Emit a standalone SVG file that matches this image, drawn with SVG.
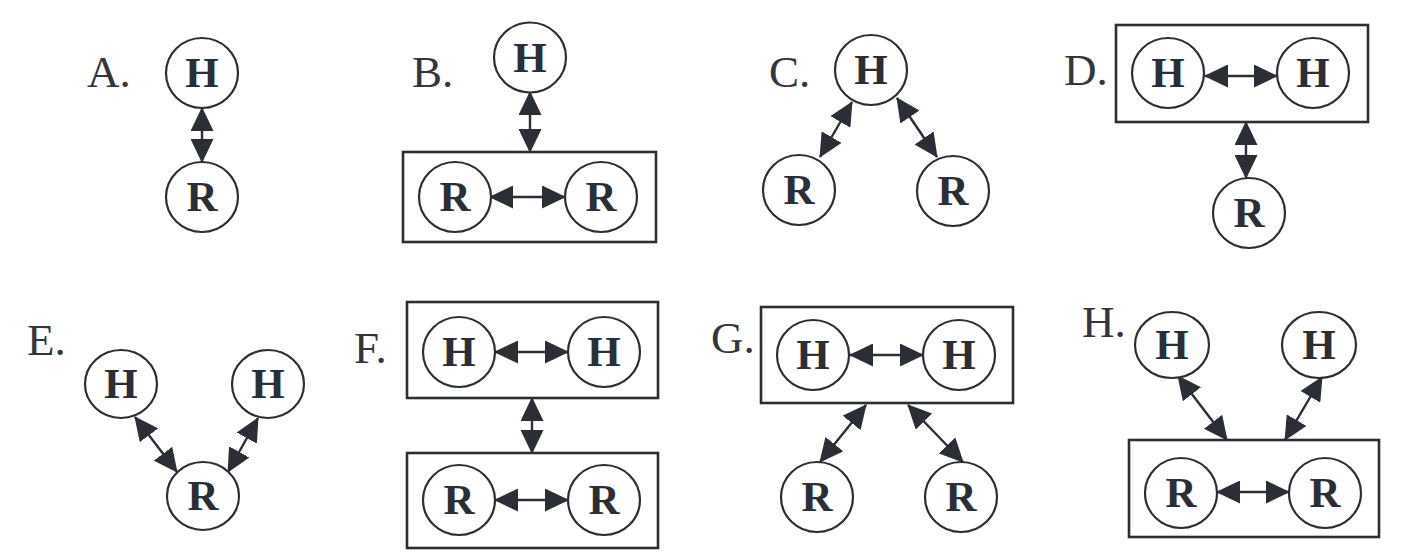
<svg xmlns="http://www.w3.org/2000/svg" width="1402" height="558" viewBox="0 0 1402 558">
<defs>
<style>
.n ellipse{fill:#fff;stroke:#2b2e35;stroke-width:2.2}
.n text{font-family:"Liberation Serif","Times New Roman",serif;font-weight:bold;font-size:43px;fill:#2b2e35;text-anchor:middle}
.box{fill:none;stroke:#2b2e35;stroke-width:2.6}
.lbl{font-family:"Liberation Serif","Times New Roman",serif;font-size:45px;fill:#33363c}
.c line{stroke:#2b2e35;stroke-width:2.4;marker-start:url(#ah);marker-end:url(#ah)}
</style>
<marker id="ah" viewBox="0 0 24 23" markerWidth="24" markerHeight="23" refX="23" refY="11.5" orient="auto-start-reverse" markerUnits="userSpaceOnUse">
<path d="M0,0 L24,11.5 L0,23 Z" fill="#2b2e35"/>
</marker>
</defs>
<rect width="1402" height="558" fill="#fff"/>
<g id="labels">
<text class="lbl" x="87" y="87">A.</text>
<text class="lbl" x="412" y="87">B.</text>
<text class="lbl" x="769" y="87">C.</text>
<text class="lbl" x="1064" y="85">D.</text>
<text class="lbl" x="27" y="355">E.</text>
<text class="lbl" x="354" y="363">F.</text>
<text class="lbl" x="711" y="353">G.</text>
<text class="lbl" x="1082" y="337">H.</text>
</g>
<g id="boxes">
<rect id="B-box" class="box" x="403" y="152" width="253" height="90"/>
<rect id="D-box" class="box" x="1116" y="25" width="252" height="97"/>
<rect id="F-box1" class="box" x="407" y="302" width="251" height="96"/>
<rect id="F-box2" class="box" x="407" y="453" width="251" height="95"/>
<rect id="G-box" class="box" x="761" y="307" width="252" height="96"/>
<rect id="H-box" class="box" x="1129" y="440" width="250" height="97"/>
</g>
<g id="connectors" class="c">
<line x1="202" y1="108" x2="202" y2="162"/>
<line x1="530" y1="92" x2="530" y2="152"/>
<line x1="490" y1="197" x2="565" y2="197"/>
<line x1="852" y1="102" x2="820" y2="157"/>
<line x1="897" y1="98" x2="937" y2="157"/>
<line x1="1205" y1="76" x2="1277" y2="76"/>
<line x1="1246" y1="122" x2="1246" y2="178"/>
<line x1="135" y1="417" x2="177" y2="472"/>
<line x1="258" y1="418" x2="228" y2="472"/>
<line x1="495" y1="352" x2="568" y2="352"/>
<line x1="532" y1="398" x2="532" y2="453"/>
<line x1="495" y1="500" x2="568" y2="500"/>
<line x1="850" y1="355" x2="923" y2="355"/>
<line x1="866" y1="405" x2="820" y2="462"/>
<line x1="908" y1="405" x2="963" y2="462"/>
<line x1="1178" y1="376" x2="1227" y2="440"/>
<line x1="1322" y1="377" x2="1285" y2="440"/>
<line x1="1217" y1="492" x2="1289" y2="492"/>
</g>
<g id="A-H" class="n"><ellipse cx="202" cy="73" rx="36" ry="35"/><text x="202" y="87">H</text></g>
<g id="A-R" class="n"><ellipse cx="202" cy="197" rx="36" ry="35"/><text x="202" y="211">R</text></g>
<g id="B-H" class="n"><ellipse cx="530" cy="57.5" rx="36" ry="35"/><text x="530" y="71.5">H</text></g>
<g id="B-R1" class="n"><ellipse cx="455" cy="197" rx="36" ry="35"/><text x="455" y="211">R</text></g>
<g id="B-R2" class="n"><ellipse cx="601" cy="197" rx="36" ry="35"/><text x="601" y="211">R</text></g>
<g id="C-H" class="n"><ellipse cx="871" cy="70" rx="36" ry="35"/><text x="871" y="84">H</text></g>
<g id="C-R1" class="n"><ellipse cx="799" cy="190" rx="36" ry="35"/><text x="799" y="204">R</text></g>
<g id="C-R2" class="n"><ellipse cx="953" cy="191" rx="36" ry="35"/><text x="953" y="205">R</text></g>
<g id="D-H1" class="n"><ellipse cx="1168" cy="73" rx="36" ry="35"/><text x="1168" y="87">H</text></g>
<g id="D-H2" class="n"><ellipse cx="1313" cy="73" rx="36" ry="35"/><text x="1313" y="87">H</text></g>
<g id="D-R" class="n"><ellipse cx="1249" cy="213" rx="36" ry="35"/><text x="1249" y="227">R</text></g>
<g id="E-H1" class="n"><ellipse cx="121" cy="384" rx="36" ry="34"/><text x="121" y="398">H</text></g>
<g id="E-H2" class="n"><ellipse cx="268" cy="384" rx="36" ry="34"/><text x="268" y="398">H</text></g>
<g id="E-R" class="n"><ellipse cx="203" cy="496" rx="36" ry="34"/><text x="203" y="510">R</text></g>
<g id="F-H1" class="n"><ellipse cx="459" cy="352" rx="36" ry="35"/><text x="459" y="366">H</text></g>
<g id="F-H2" class="n"><ellipse cx="604" cy="352" rx="36" ry="35"/><text x="604" y="366">H</text></g>
<g id="F-R1" class="n"><ellipse cx="459" cy="500" rx="36" ry="35"/><text x="459" y="514">R</text></g>
<g id="F-R2" class="n"><ellipse cx="604" cy="500" rx="36" ry="35"/><text x="604" y="514">R</text></g>
<g id="G-H1" class="n"><ellipse cx="813" cy="355" rx="36" ry="35"/><text x="813" y="369">H</text></g>
<g id="G-H2" class="n"><ellipse cx="959" cy="355" rx="36" ry="35"/><text x="959" y="369">H</text></g>
<g id="G-R1" class="n"><ellipse cx="817" cy="497" rx="36" ry="35"/><text x="817" y="511">R</text></g>
<g id="G-R2" class="n"><ellipse cx="961" cy="497" rx="36" ry="35"/><text x="961" y="511">R</text></g>
<g id="H-H1" class="n"><ellipse cx="1172" cy="345" rx="37" ry="33"/><text x="1172" y="359">H</text></g>
<g id="H-H2" class="n"><ellipse cx="1319" cy="345" rx="37" ry="33"/><text x="1319" y="359">H</text></g>
<g id="H-R1" class="n"><ellipse cx="1181" cy="493" rx="36" ry="35"/><text x="1181" y="507">R</text></g>
<g id="H-R2" class="n"><ellipse cx="1325" cy="493" rx="36" ry="35"/><text x="1325" y="507">R</text></g>
</svg>
